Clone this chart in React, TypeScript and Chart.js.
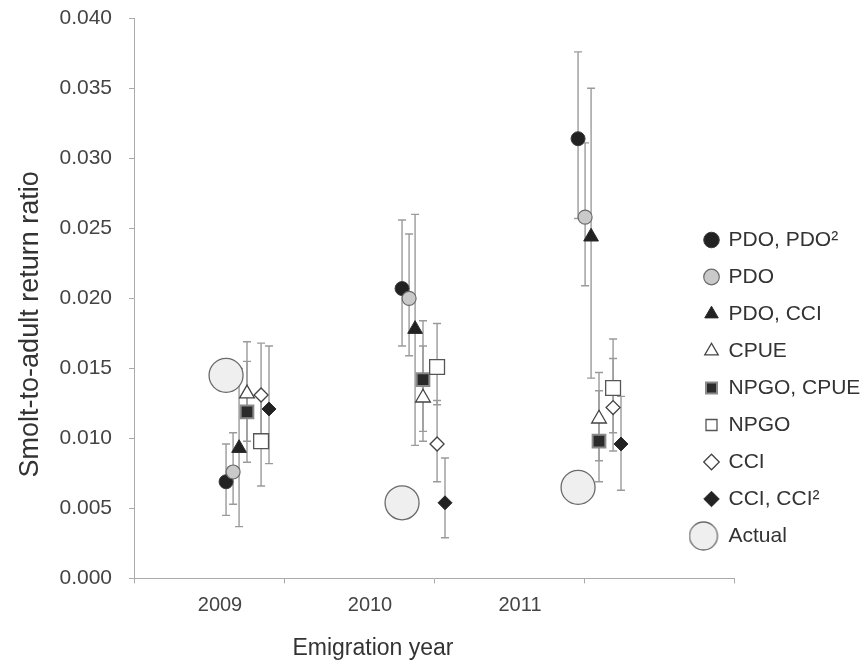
import React, { useEffect, useRef } from 'react';
import { Chart, registerables } from 'chart.js';

Chart.register(...registerables);

// ---------- data ----------
const CATEGORIES = ['2009', '2010', '2011', ''];
const YEARS = [2009, 2010, 2011];
const Y_TICKS = [0, 0.005, 0.01, 0.015, 0.02, 0.025, 0.03, 0.035, 0.04];

const SERIES_NAMES = ['PDO, PDO²', 'PDO', 'PDO, CCI', 'CPUE', 'NPGO, CPUE', 'NPGO', 'CCI', 'CCI, CCI²', 'Actual'];

const PDO_PDO2 = [0.0069, 0.0207, 0.0314];
const PDO_PDO2_LO = [0.0045, 0.0166, 0.0257];
const PDO_PDO2_HI = [0.0096, 0.0256, 0.0376];

const PDO = [0.0076, 0.0200, 0.0258];
const PDO_LO = [0.0053, 0.0159, 0.0209];
const PDO_HI = [0.0104, 0.0246, 0.0311];

const PDO_CCI = [0.0093, 0.0178, 0.0244];
const PDO_CCI_LO = [0.0037, 0.0095, 0.0143];
const PDO_CCI_HI = [0.0150, 0.0260, 0.0350];

const CPUE = [0.0132, 0.0129, 0.0114];
const CPUE_LO = [0.0098, 0.0105, 0.0084];
const CPUE_HI = [0.0169, 0.0166, 0.0147];

const NPGO_CPUE = [0.0119, 0.0142, 0.0098];
const NPGO_CPUE_LO = [0.0083, 0.0098, 0.0069];
const NPGO_CPUE_HI = [0.0155, 0.0184, 0.0134];

const NPGO = [0.0098, 0.0151, 0.0136];
const NPGO_LO = [0.0066, 0.0124, 0.0104];
const NPGO_HI = [0.0130, 0.0182, 0.0171];

const CCI = [0.0131, 0.0096, 0.0122];
const CCI_LO = [0.0095, 0.0069, 0.0091];
const CCI_HI = [0.0168, 0.0127, 0.0157];

const CCI_CCI2 = [0.0121, 0.0054, 0.0096];
const CCI_CCI2_LO = [0.0082, 0.0029, 0.0063];
const CCI_CCI2_HI = [0.0166, 0.0086, 0.0130];

const ACTUAL = [0.0145, 0.0054, 0.0065];

// ---------- table built from the arrays ----------
const SERIES = [
  { mean: PDO_PDO2, lo: PDO_PDO2_LO, hi: PDO_PDO2_HI },
  { mean: PDO, lo: PDO_LO, hi: PDO_HI },
  { mean: PDO_CCI, lo: PDO_CCI_LO, hi: PDO_CCI_HI },
  { mean: CPUE, lo: CPUE_LO, hi: CPUE_HI },
  { mean: NPGO_CPUE, lo: NPGO_CPUE_LO, hi: NPGO_CPUE_HI },
  { mean: NPGO, lo: NPGO_LO, hi: NPGO_HI },
  { mean: CCI, lo: CCI_LO, hi: CCI_HI },
  { mean: CCI_CCI2, lo: CCI_CCI2_LO, hi: CCI_CCI2_HI },
  { mean: ACTUAL, lo: null, hi: null },
];

// ---------- styles ----------
const STYLES = [
  { shift: 0.0, pointStyle: 'circle', radius: 7, bg: '#222222', border: '#3a3a3a', bw: 1 },
  { shift: 0.04, pointStyle: 'circle', radius: 7, bg: '#c9c9c9', border: '#6a6a6a', bw: 1.2 },
  { shift: 0.074, pointStyle: 'triangle', radius: 8.5, bg: '#222222', border: '#2a2a2a', bw: 1 },
  { shift: 0.119, pointStyle: 'triangle', radius: 8.5, bg: '#ffffff', border: '#444444', bw: 1.3 },
  { shift: 0.119, pointStyle: 'rect', radius: 9, bg: '#2b2b2b', border: '#8a8a8a', bw: 2 },
  { shift: 0.199, pointStyle: 'rect', radius: 10.5, bg: '#ffffff', border: '#555555', bw: 1.3 },
  { shift: 0.199, pointStyle: 'rectRot', radius: 7, bg: '#ffffff', border: '#444444', bw: 1.3 },
  { shift: 0.244, pointStyle: 'rectRot', radius: 7, bg: '#222222', border: '#2a2a2a', bw: 1 },
  { shift: 0.0, pointStyle: 'circle', radius: 17, bg: '#efefef', border: '#6a6a6a', bw: 1.3 },
];

const FONT = "'Liberation Sans', Arial, Helvetica, sans-serif";
const ERR_COLOR = '#9a9a9a';
const AXIS_COLOR = '#aaaaaa';

function makeActualIcon(): HTMLCanvasElement {
  const c = document.createElement('canvas');
  c.width = 46;
  c.height = 32;
  const ctx = c.getContext('2d')!;
  ctx.beginPath();
  ctx.arc(15, 16, 14, 0, Math.PI * 2);
  ctx.fillStyle = '#efefef';
  ctx.fill();
  ctx.lineWidth = 1.3;
  ctx.strokeStyle = '#6a6a6a';
  ctx.stroke();
  return c;
}

const placeBlocks = {
  id: 'placeBlocks',
  afterLayout(chart: any) {
    const lg = chart.legend;
    if (lg) {
      lg.left = 689;
      lg.right = 862;
      lg.top = 213.5;
      lg.bottom = 666;
    }
    const tb = chart.titleBlock;
    if (tb) {
      const half = (tb.right - tb.left) / 2;
      tb.left = 373 - half;
      tb.right = 373 + half;
    }
    const yt = chart.scales.yTitle;
    if (yt) {
      yt.top += 26;
      yt.bottom += 26;
    }
  },
};

export default function App() {
  const ref = useRef<HTMLCanvasElement>(null);

  useEffect(() => {
    const actualIcon = makeActualIcon();
    const n = SERIES.length;

    const markerSets = SERIES.map((s, i) => {
      const st = STYLES[i];
      return {
        type: 'scatter',
        label: SERIES_NAMES[i],
        xAxisID: 'xd',
        yAxisID: 'y',
        order: n - i,
        data: YEARS.map((yr, k) => ({ x: yr + st.shift, y: s.mean[k] })),
        pointStyle: st.pointStyle,
        pointRadius: st.radius,
        pointHoverRadius: st.radius,
        backgroundColor: st.bg,
        borderColor: st.border,
        pointBackgroundColor: st.bg,
        pointBorderColor: st.border,
        pointBorderWidth: st.bw,
        borderWidth: st.bw,
        showLine: false,
      };
    });

    const errorSets = SERIES.filter((s) => s.lo && s.hi).map((s, i) => {
      const st = STYLES[i];
      const pts: any[] = [];
      YEARS.forEach((yr, k) => {
        pts.push({ x: yr + st.shift, y: s.lo![k] });
        pts.push({ x: yr + st.shift, y: s.hi![k] });
        pts.push({ x: yr + st.shift, y: null });
      });
      return {
        type: 'line',
        label: 'err' + i,
        xAxisID: 'xd',
        yAxisID: 'y',
        order: 100 + i,
        data: pts,
        showLine: true,
        spanGaps: false,
        borderColor: ERR_COLOR,
        borderWidth: 1.4,
        pointStyle: 'line',
        pointRadius: 4,
        pointHoverRadius: 4,
        pointBorderColor: ERR_COLOR,
        pointBorderWidth: 1.4,
        fill: false,
      };
    });

    const chart = new Chart(ref.current as HTMLCanvasElement, {
      type: 'scatter',
      data: { datasets: [...markerSets, ...errorSets] as any },
      options: {
        animation: false,
        responsive: true,
        maintainAspectRatio: false,
        events: [],
        font: { family: FONT },
        layout: { padding: { top: 18, right: 128, bottom: 0, left: 0 } },
        scales: {
          x: {
            type: 'category',
            labels: CATEGORIES,
            position: 'bottom',
            offset: true,
            afterFit: (s: any) => {
              s.height = 39;
            },
            grid: {
              offset: true,
              drawOnChartArea: false,
              drawTicks: true,
              tickLength: 5,
              color: AXIS_COLOR,
            },
            border: { color: AXIS_COLOR, width: 1 },
            ticks: {
              labelOffset: 11,
              padding: 10,
              color: '#444444',
              font: { family: FONT, size: 20 },
              maxRotation: 0,
              autoSkip: false,
            },
          },
          xd: {
            type: 'linear',
            display: false,
            position: 'bottom',
            min: 2008.477,
            max: 2011.886,
          },
          yTitle: {
            type: 'linear',
            position: 'left',
            weight: 1,
            afterFit: (s: any) => {
              s.width = 46;
              s.paddingTop = 0;
              s.paddingBottom = 0;
            },
            grid: { display: false, drawTicks: false },
            border: { display: false },
            ticks: { display: false },
            title: {
              display: true,
              text: 'Smolt-to-adult return ratio',
              color: '#333333',
              font: { family: FONT, size: 27 },
              padding: { top: 14, bottom: 0 },
            },
          },
          y: {
            type: 'linear',
            position: 'left',
            weight: 0,
            min: 0,
            max: 0.04,
            afterFit: (s: any) => {
              s.width = 88;
              s.paddingTop = 0;
            },
            afterBuildTicks: (s: any) => {
              s.ticks = Y_TICKS.map((v) => ({ value: v }));
            },
            grid: {
              drawOnChartArea: false,
              drawTicks: true,
              tickLength: 5,
              color: AXIS_COLOR,
            },
            border: { color: AXIS_COLOR, width: 1 },
            ticks: {
              padding: 17,
              color: '#444444',
              font: { family: FONT, size: 21 },
              callback: (v: any) => Number(v).toFixed(3),
            },
          },
        },
        plugins: {
          tooltip: { enabled: false },
          title: {
            display: true,
            text: 'Emigration year',
            position: 'bottom',
            color: '#333333',
            font: { family: FONT, size: 23, weight: 'normal' },
            padding: { top: 17, bottom: 4 },
          },
          legend: {
            display: true,
            position: 'chartArea',
            align: 'start',
            labels: {
              usePointStyle: true,
              boxWidth: 13,
              boxHeight: 11,
              padding: 16,
              color: '#333333',
              font: { family: FONT, size: 21 },
              filter: (item: any) => item.datasetIndex < n,
              generateLabels: (ch: any) => {
                const items = (Chart.defaults.plugins.legend.labels as any).generateLabels(ch);
                items.sort((a: any, b: any) => a.datasetIndex - b.datasetIndex);
                items.forEach((it: any) => {
                  if (it.datasetIndex === n - 1) it.pointStyle = actualIcon;
                });
                return items;
              },
            },
          },
        },
      } as any,
      plugins: [placeBlocks as any],
    });

    return () => chart.destroy();
  }, []);

  return (
    <div style={{ position: 'fixed', left: 0, top: 0, width: 862, height: 666, background: '#ffffff' }}>
      <canvas ref={ref} />
    </div>
  );
}
